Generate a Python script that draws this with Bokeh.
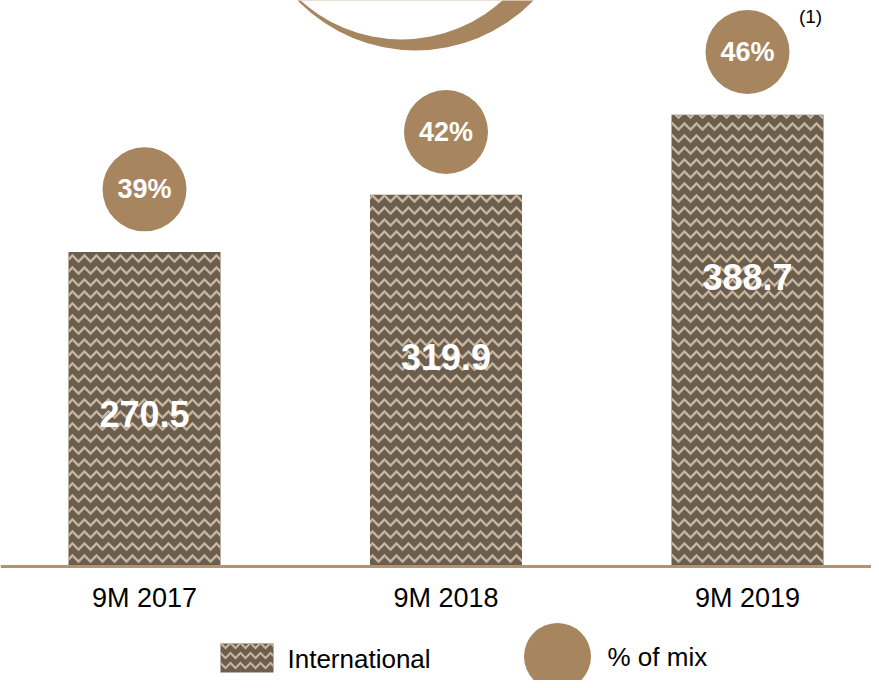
import numpy as np
from bokeh.plotting import figure
from bokeh.models import Range1d, Span
from bokeh.embed import file_html
from bokeh.resources import INLINE
from bokeh.core.properties import value

# ---- data ----
categories = ["9M 2017", "9M 2018", "9M 2019"]
international = [270.5, 319.9, 388.7]
mix_labels = ["39%", "42%", "46%"]
value_labels = ["270.5", "319.9", "388.7"]
legend_labels = ["International", "% of mix"]
footnote = "(1)"

# ---- layout constants ----
W, H = 871, 680
PX_X = 301.5      # px per category
X0 = 144          # plot px of first category center
PX_Y = 1.1622     # px per unit
BASE = 566        # plot px (from top) of the zero line
FONT = value("Liberation Sans")

BAR_COLOR = "#6c5e4f"
HATCH_COLOR = "#c6b69d"
GOLD = "#a6855f"
LINE_GOLD = "#b09373"

x_start = -X0 / PX_X
x_end = (W - X0) / PX_X
y_start = -(H - BASE) / PX_Y
y_end = BASE / PX_Y


def px2x(px):
    return (px - X0) / PX_X


def py2y(py):
    return (BASE - py) / PX_Y


xs = list(range(len(categories)))
circle_y = [v + 54 for v in international]

p = figure(width=W, height=H, x_range=Range1d(x_start, x_end), y_range=Range1d(y_start, y_end),
           output_backend="svg", toolbar_location=None, min_border=0,
           x_axis_type=None, y_axis_type=None, outline_line_color=None)
p.grid.visible = False
p.background_fill_color = "white"
p.border_fill_color = "white"

# decorative crescent at the top
p.scatter(x=[px2x(415)], y=[py2y(-114)], size=328, marker="circle", fill_color=GOLD, line_color=None)
p.scatter(x=[px2x(401)], y=[py2y(-111)], size=300, marker="circle", fill_color="white", line_color=None)

# bars
p.vbar(x=xs, top=international, bottom=0, width=152 / PX_X, fill_color=BAR_COLOR, line_color=None,
       hatch_pattern="horizontal_wave", hatch_color=HATCH_COLOR, hatch_scale=12, hatch_weight=2.4)

# baseline
p.add_layout(Span(location=0, dimension="width", line_color=LINE_GOLD, line_width=3))

# value labels in bars
p.text(x=xs, y=international, text=value_labels, y_offset=162, text_align="center", text_baseline="middle",
       text_font=FONT, text_font_size="36px", text_font_style="bold", text_color="white")

# percentage circles
p.scatter(x=xs, y=circle_y, size=84, marker="circle", fill_color=GOLD, line_color=None)
p.text(x=xs, y=circle_y, text=mix_labels, text_align="center", text_baseline="middle",
       text_font=FONT, text_font_size="27px", text_font_style="bold", text_color="white")

# footnote marker
p.text(x=[px2x(810)], y=[py2y(16)], text=[footnote], text_align="center", text_baseline="middle",
       text_font=FONT, text_font_size="19px", text_color="black")

# category labels
p.text(x=xs, y=[0] * len(xs), text=categories, y_offset=31, text_align="center", text_baseline="middle",
       text_font=FONT, text_font_size="27px", text_color="black")

# legend
p.rect(x=[px2x(246.5)], y=[py2y(657.5)], width=53, height=29, width_units="screen", height_units="screen",
       fill_color=BAR_COLOR, line_color=None, hatch_pattern="horizontal_wave", hatch_color=HATCH_COLOR,
       hatch_scale=10, hatch_weight=2)
p.text(x=[px2x(287)], y=[py2y(658)], text=[legend_labels[0]], text_align="left", text_baseline="middle",
       text_font=FONT, text_font_size="26px", text_color="black")
p.scatter(x=[px2x(557)], y=[py2y(656)], size=67, marker="circle", fill_color=GOLD, line_color=None)
p.text(x=[px2x(607)], y=[py2y(656)], text=[legend_labels[1]], text_align="left", text_baseline="middle",
       text_font=FONT, text_font_size="26px", text_color="black")

open("out.html", "w").write(file_html(p, INLINE))
